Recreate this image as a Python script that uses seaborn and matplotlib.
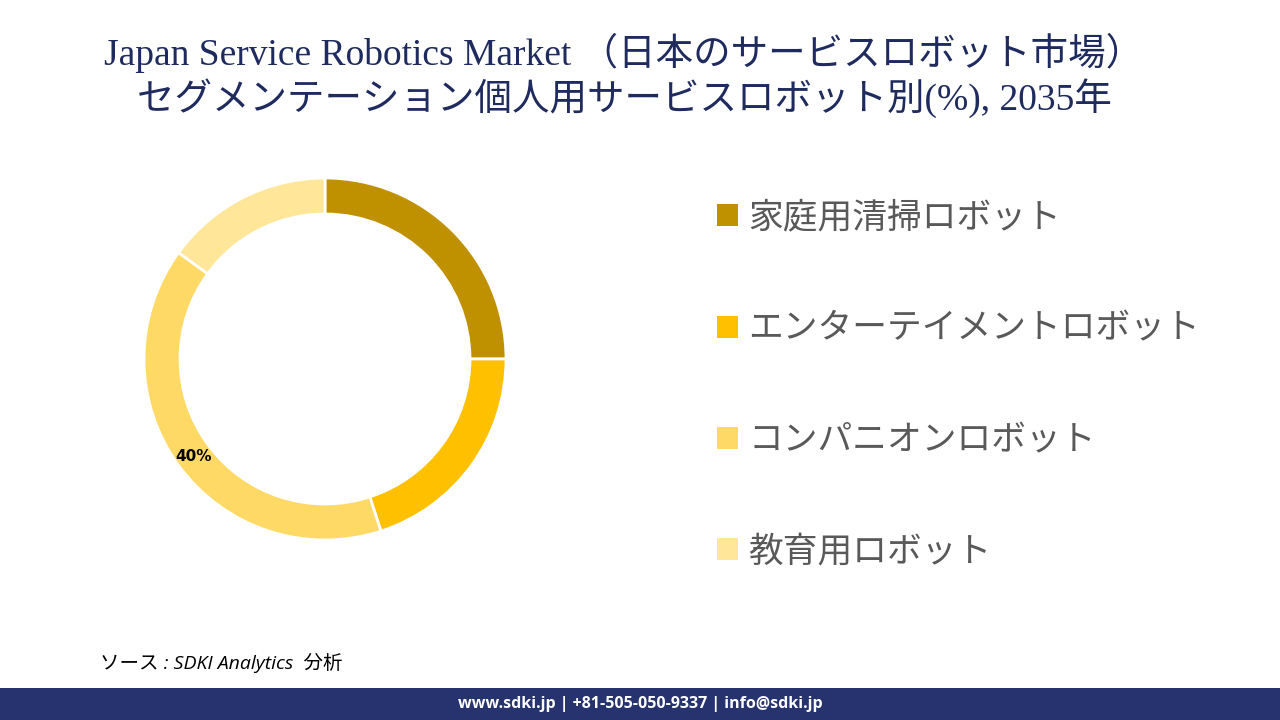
import matplotlib
matplotlib.use("Agg")
import matplotlib.pyplot as plt
import matplotlib.patches as mpatches
import numpy as np
import seaborn as sns

# data
segments = ["家庭用清掃ロボット", "エンターテイメントロボット", "コンパニオンロボット", "教育用ロボット"]
shares = [25, 20, 40, 15]
colors = ["#BF9000", "#FFC000", "#FFD966", "#FFE699"]
shown_labels = ["", "", "40%", ""]

title_1 = "Japan Service Robotics Market （日本のサービスロボット市場）"
title_2 = "セグメンテーション個人用サービスロボット別(%), 2035年"
source_text = "ソース : SDKI Analytics  分析"
footer_text = "www.sdki.jp | +81-505-050-9337 | info@sdki.jp"

sns.set_theme(style="white")
plt.rcParams['font.family'] = ['Noto Sans CJK JP', 'DejaVu Sans']

navy = "#26336E"
fig = plt.figure(figsize=(12.8, 7.2), dpi=100)
fig.patch.set_facecolor("white")

# title
serif = ['Liberation Serif', 'Noto Sans CJK JP']
fig.text(0.487, 0.926, title_1, ha="center", va="center", fontsize=27,
         color="#1F2B5E", family=serif)
fig.text(0.488, 0.864, title_2, ha="center", va="center", fontsize=27,
         color="#1F2B5E", family=serif)

# donut
cx, cy, r = 325, 359, 181
ax = fig.add_axes([(cx - r) / 1280, (720 - cy - r) / 720, 2 * r / 1280, 2 * r / 720])
wedges, _ = ax.pie(shares, colors=colors, startangle=90, counterclock=False,
                   radius=1, wedgeprops=dict(width=36 / 181, edgecolor="white", linewidth=2))
for w, lab in zip(wedges, shown_labels):
    if lab:
        ang = np.deg2rad((w.theta1 + w.theta2) / 2)
        rr = 163 / 181
        ax.text(rr * np.cos(ang), rr * np.sin(ang) - 0.01, lab, ha="center", va="center",
                fontsize=11, fontweight="bold", color="black", family=['DejaVu Sans'])
ax.set_xlim(-1, 1)
ax.set_ylim(-1, 1)
ax.set_aspect("equal")
ax.axis("off")

# legend
handles = [mpatches.Patch(facecolor=c, edgecolor="none") for c in colors]
leg = fig.legend(handles, segments, loc="upper left", bbox_to_anchor=(0.536, 0.765),
                 frameon=False, fontsize=25, labelspacing=2.2, handlelength=0.6,
                 handleheight=0.6, handletextpad=0.3)
for t in leg.get_texts():
    t.set_color("#595959")

# source
fig.text(0.078, 0.079, source_text, ha="left", va="center", fontsize=14,
         style="italic", color="black", family=['Open Sans', 'Noto Sans CJK JP'])

# footer bar
bar = fig.add_axes([0, 0, 1, 32 / 720])
bar.set_facecolor(navy)
bar.set_xticks([])
bar.set_yticks([])
for s in bar.spines.values():
    s.set_visible(False)
bar.text(0.5, 0.5, footer_text, ha="center", va="center", color="white",
         fontsize=11.5, fontweight="bold", family=['Open Sans', 'DejaVu Sans'])

fig.savefig("out.png", dpi=100)
